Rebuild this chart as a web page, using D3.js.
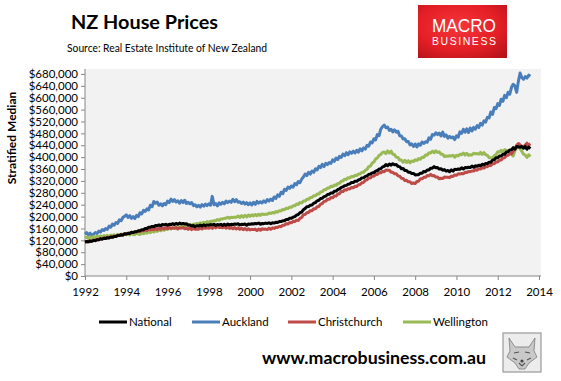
<!DOCTYPE html>
<html><head><meta charset="utf-8">
<script src="https://cdn.jsdelivr.net/npm/d3@7/dist/d3.min.js"></script>
<style>body{margin:0;background:#fff}svg{display:block}</style>
</head><body>
<svg id="chart" width="561" height="381"></svg>
<script>
// ---- Data (stratified median, $ thousands, monthly from Jan 1992) ----
const startYear = 1992;
const national = [
114,116,115,118,117,120,119,122,122,125,124,127,
126,129,128,131,130,133,133,136,136,139,138,142,
141,144,143,147,146,149,149,152,152,156,156,160,
160,164,164,167,166,170,169,172,169,173,172,174,
171,174,173,176,173,177,174,178,175,177,175,176,
171,172,168,170,166,169,168,171,168,172,169,172,
171,173,172,174,170,173,172,174,170,174,171,175,
172,174,173,175,174,176,172,174,173,175,171,175,
174,176,175,177,176,178,174,177,176,178,177,179,
176,179,178,181,180,183,183,186,186,190,190,194,
194,198,200,205,207,213,215,223,227,233,234,238,
239,245,247,253,255,261,262,267,269,274,275,279,
279,285,286,291,293,298,300,304,305,309,310,315,
315,319,319,323,325,330,331,335,337,342,343,347,
348,353,355,360,361,367,369,375,371,377,373,378,
374,375,369,368,361,362,355,355,349,349,345,345,
340,341,341,346,346,352,351,357,357,363,363,368,
364,365,360,361,356,358,353,355,351,357,353,359,
358,360,359,364,360,365,364,366,365,370,366,371,
369,373,371,376,374,379,378,383,383,390,391,398,
398,404,404,410,410,417,418,424,425,432,427,436,
435,433,436,430,436,427,434,429];
const auckland = [
141,146,138,144,135,141,146,143,151,148,156,153,
160,157,168,164,175,171,180,177,189,186,197,201,
206,197,203,194,200,193,204,200,213,209,221,217,
226,222,238,233,251,245,249,238,243,236,244,240,
252,247,259,251,257,249,253,245,254,247,255,244,
248,243,247,237,240,233,238,232,240,235,242,237,
243,238,268,240,244,236,246,241,248,243,252,247,
252,248,258,250,257,248,250,244,249,242,247,240,
246,239,248,241,251,245,250,246,253,248,257,252,
259,254,266,261,273,268,282,277,292,288,299,295,
303,299,311,307,318,314,326,333,343,338,349,343,
353,349,361,357,369,365,376,368,379,375,382,379,
391,386,397,392,403,399,410,405,415,408,418,413,
420,414,423,417,428,421,431,427,440,437,451,448,
462,458,476,472,494,503,508,499,501,490,494,485,
492,484,487,472,471,461,462,452,453,441,445,436,
444,434,445,440,451,446,452,450,465,460,476,474,
482,476,481,471,484,470,475,464,470,465,468,459,
472,467,485,480,494,484,495,483,498,488,500,494,
506,500,514,508,522,518,534,532,552,544,567,563,
580,574,595,588,608,600,618,612,635,645,640,618,
655,683,668,662,671,666,676,672];
const christchurch = [
114,116,115,118,117,120,120,123,122,126,125,128,
127,130,129,132,131,134,133,137,136,139,138,142,
141,144,144,147,146,149,148,151,150,153,152,155,
153,157,155,157,156,160,156,161,157,162,158,163,
159,164,160,162,161,163,158,162,161,163,159,161,
157,162,156,161,157,158,157,162,158,163,161,162,
161,165,160,166,162,167,163,164,162,166,161,165,
160,164,159,163,158,162,157,161,156,160,155,159,
155,157,156,158,153,158,154,159,157,158,156,161,
157,162,160,164,163,167,166,171,171,176,175,180,
179,184,183,188,187,194,197,206,207,213,214,220,
220,226,226,233,234,242,244,251,252,258,258,264,
263,269,269,276,277,285,284,290,289,294,293,298,
297,302,301,307,308,314,315,322,324,330,330,336,
336,342,342,348,347,352,351,357,356,356,349,349,
344,344,337,336,329,328,321,322,317,317,311,313,
311,318,319,327,327,332,332,338,337,342,337,338,
333,333,327,329,328,333,332,332,331,336,335,340,
339,344,343,345,344,349,348,352,351,353,353,358,
356,361,360,364,363,368,368,373,372,378,378,384,
384,390,390,397,398,405,406,413,411,420,427,440,
446,441,437,433,441,447,441,445];
const wellington = [
128,131,126,132,128,133,129,134,130,135,131,136,
133,137,132,138,134,139,135,140,136,141,137,142,
139,143,138,144,140,139,145,141,140,146,142,147,
144,149,146,151,148,153,150,155,152,157,154,158,
157,161,158,163,160,164,161,166,163,167,166,170,
169,173,170,174,173,177,174,179,176,181,178,183,
180,184,184,186,186,190,187,192,192,194,194,198,
194,198,197,198,198,202,197,203,198,204,199,205,
201,206,202,207,203,208,204,209,207,208,208,212,
210,214,212,217,215,220,219,224,223,228,227,232,
231,236,236,242,241,247,246,252,252,258,258,264,
264,270,270,276,276,283,284,290,290,296,296,302,
301,306,305,311,312,319,320,326,325,331,330,335,
334,339,338,343,343,349,349,356,359,368,370,380,
384,394,397,406,409,416,417,412,421,414,420,410,
408,400,399,390,390,383,389,382,388,381,387,385,
391,389,395,393,400,399,407,407,415,414,420,415,
421,416,418,410,410,402,404,403,405,404,406,400,
406,404,410,408,414,407,413,406,408,407,413,411,
412,410,416,409,415,408,406,398,398,396,405,408,
418,417,423,416,425,423,422,412,410,404,422,430,
441,428,420,410,407,399,408,402];

const seriesNames = ["National", "Auckland", "Christchurch", "Wellington"];
const seriesColors = ["#000000", "#4a7ebb", "#be4b48", "#98b954"];
const xTickYears = [1992,1994,1996,1998,2000,2002,2004,2006,2008,2010,2012,2014];
const yTickValues = [0,40000,80000,120000,160000,200000,240000,280000,320000,360000,
  400000,440000,480000,520000,560000,600000,640000,680000];

const seriesData = [national, auckland, christchurch, wellington];

// ---- Layout ----
const svg = d3.select("#chart");
const FONT = "Lato, 'Open Sans', sans-serif";
const plot = {left: 85, right: 541, top: 69, bottom: 276};

const x = d3.scaleLinear().domain([1992, 2014]).range([85, 539]);
const y = d3.scaleLinear().domain([0, 700000]).range([plot.bottom, plot.top - 1]);

// plot background
svg.append("rect").attr("x", plot.left).attr("y", plot.top)
  .attr("width", plot.right - plot.left).attr("height", plot.bottom - plot.top)
  .attr("fill", "#f2f2f2");

// Title & subtitle
svg.append("text").attr("x", 71).attr("y", 29).attr("font-family", FONT)
  .attr("font-size", 19.5).attr("font-weight", "bold").attr("fill", "#000")
  .attr("textLength", 147).attr("lengthAdjust", "spacingAndGlyphs")
  .text("NZ House Prices");
svg.append("text").attr("x", 67).attr("y", 52).attr("font-family", FONT)
  .attr("font-size", 11).attr("fill", "#000")
  .attr("textLength", 200).attr("lengthAdjust", "spacingAndGlyphs")
  .text("Source: Real Estate Institute of New Zealand");

// Logo
const defs = svg.append("defs");
const rg = defs.append("radialGradient").attr("id", "logoGrad")
  .attr("cx", "45%").attr("cy", "40%").attr("r", "75%");
rg.append("stop").attr("offset", "0%").attr("stop-color", "#f5363a");
rg.append("stop").attr("offset", "60%").attr("stop-color", "#e41f26");
rg.append("stop").attr("offset", "100%").attr("stop-color", "#b8121a");
svg.append("rect").attr("x", 418).attr("y", 5).attr("width", 89).attr("height", 53)
  .attr("fill", "url(#logoGrad)");
svg.append("text").attr("x", 464).attr("y", 32).attr("text-anchor", "middle")
  .attr("font-family", "'Liberation Sans', Arial, sans-serif").attr("font-size", 19)
  .attr("fill", "#fff").attr("textLength", 64).attr("lengthAdjust", "spacingAndGlyphs")
  .text("MACRO");
svg.append("text").attr("x", 464).attr("y", 45).attr("text-anchor", "middle")
  .attr("font-family", "'Liberation Sans', Arial, sans-serif").attr("font-size", 10.5)
  .attr("fill", "#fff").attr("textLength", 64).attr("lengthAdjust", "spacing")
  .text("BUSINESS");

// Axes
const axisColor = "#868686";
const yAxis = svg.append("g").attr("transform", `translate(${plot.left},0)`)
  .call(d3.axisLeft(y).tickValues(yTickValues).tickSize(4).tickSizeOuter(0)
    .tickFormat(d => d3.format("$,")(d)));
const xAxis = svg.append("g").attr("transform", `translate(0,${plot.bottom})`)
  .call(d3.axisBottom(x).tickValues(xTickYears).tickSize(4).tickSizeOuter(0)
    .tickFormat(d3.format("d")));
[yAxis, xAxis].forEach(g => {
  g.select(".domain").attr("stroke", axisColor).attr("stroke-width", 1);
  g.selectAll(".tick line").attr("stroke", axisColor);
  g.selectAll(".tick text").attr("font-family", FONT).attr("font-size", 11.5).attr("fill", "#000");
});
yAxis.select(".domain").attr("d", `M0,${plot.bottom}V${plot.top}`);
xAxis.select(".domain").attr("d", `M${plot.left},0H${plot.right}`);
yAxis.selectAll(".tick text").attr("x", -7);
xAxis.selectAll(".tick text").attr("y", 12);

// Y axis title
svg.append("text").attr("transform", "translate(16,138) rotate(-90)")
  .attr("text-anchor", "middle").attr("font-family", FONT).attr("font-size", 12)
  .attr("font-weight", "bold").attr("fill", "#000")
  .text("Stratified Median");

// Lines
const line = d3.line()
  .x((d, i) => x(startYear + i / 12))
  .y(d => y(d * 1000));
const drawOrder = [1, 3, 2, 0];
drawOrder.forEach(k => {
  svg.append("path").datum(seriesData[k])
    .attr("fill", "none").attr("stroke", seriesColors[k])
    .attr("stroke-width", 3).attr("stroke-linejoin", "round")
    .attr("d", line);
});

// Legend
const legendX = [99, 192, 288, 403];
seriesNames.forEach((name, k) => {
  svg.append("line").attr("x1", legendX[k]).attr("x2", legendX[k] + 28)
    .attr("y1", 322).attr("y2", 322).attr("stroke", seriesColors[k]).attr("stroke-width", 3);
  svg.append("text").attr("x", legendX[k] + 30).attr("y", 326)
    .attr("font-family", FONT).attr("font-size", 11.5).attr("fill", "#000").text(name);
});

// Footer
svg.append("text").attr("x", 262).attr("y", 364).attr("font-family", FONT)
  .attr("font-size", 17).attr("font-weight", "bold").attr("fill", "#000")
  .attr("textLength", 224).attr("lengthAdjust", "spacingAndGlyphs")
  .text("www.macrobusiness.com.au");

// Wolf badge (stylised)
const wolf = svg.append("g").attr("transform", "translate(503,333)");
wolf.append("rect").attr("width", 38).attr("height", 39).attr("fill", "#ececec")
  .attr("stroke", "#9a9a9a").attr("stroke-width", 1.2);
wolf.append("path").attr("d", "M6,5 L12,14 L26,14 L32,5 L31,18 L34,24 L26,30 L22,36 L16,36 L12,30 L4,24 L7,18 Z")
  .attr("fill", "#c9c9c9").attr("stroke", "#7a7a7a").attr("stroke-width", 0.8);
wolf.append("path").attr("d", "M11,20 L16,19 M22,19 L27,20 M16,30 L19,33 L22,30 M10,25 L14,27 M28,25 L24,27")
  .attr("stroke", "#555").attr("stroke-width", 1.2).attr("fill", "none");
wolf.append("circle").attr("cx", 19).attr("cy", 28).attr("r", 1.6).attr("fill", "#444");
</script>
</body></html>
